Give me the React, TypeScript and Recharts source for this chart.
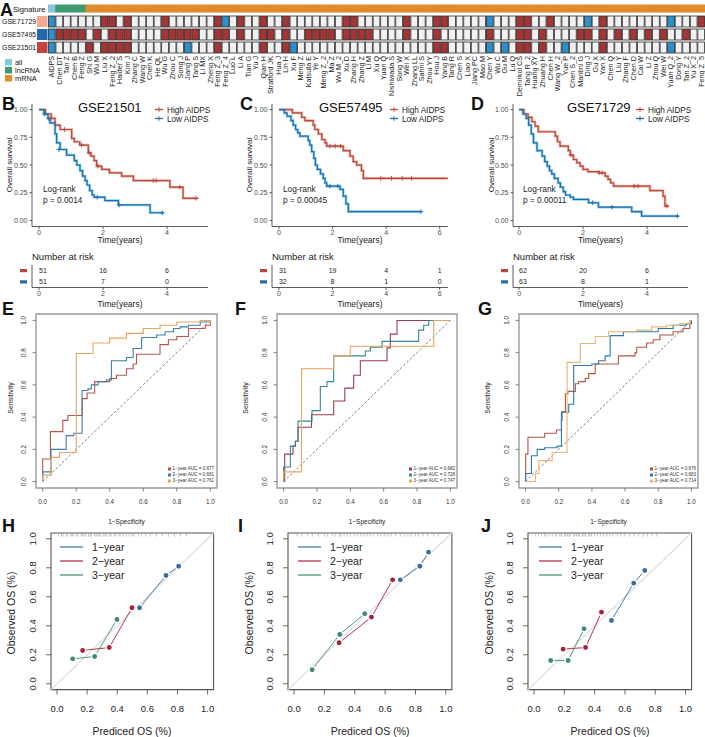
import React from 'react';
import { ComposedChart, ScatterChart, Scatter, Line, XAxis, YAxis, ReferenceArea, ReferenceLine } from 'recharts';

const FONT = "'Liberation Sans', Arial, Helvetica, sans-serif";

// ---------------- A: signature comparison ----------------
const signatureNames = [
  'AIDPS', 'Chen DT', 'Tan Z', 'Chen B', 'Feng Z', 'Shi G', 'Wu M', 'Liu X', 'Feng Z_2', 'Haider S',
  'Kim J', 'Zhang C', 'Wang W', 'Chen K', 'He QL', 'Wu G', 'Zhou C', 'Song J', 'Jiang P', 'Tang S',
  'Li MX', 'Zheng X', 'Feng Z_3', 'Feng Z_4', 'Luo L', 'Li A', 'Tian G', 'Yu J', 'Qian H', 'Stratford JK',
  'Hua J', 'Lin H', 'Xu F', 'Meng Z', 'Katsuta E', 'Ye Y', 'Meng Z_2', 'Ma Z', 'Wu M_2', 'Xu D',
  'Zhang H', 'Zhang Z', 'Li M', 'Xu Q', 'Yuan Q', 'Nishiwada S', 'Song W', 'Wei X', 'Zhang LL', 'Sahni S',
  'Zhou YY', 'Hou J', 'Yang B', 'Tang R', 'Chen S', 'Liao X', 'Jiang PC', 'Mao M', 'Chen Y', 'Wu C',
  'Gu M', 'Lu Q', 'Demirkol CS', 'Tang R_2', 'Huang XY', 'Zhuang H', 'Chen H', 'Wang W_2', 'Yue P', 'Chen S_2',
  'Mantini G', 'Ding J', 'Gu X', 'Yan X', 'Chen Q', 'Liu Y', 'Zhang F', 'Chen D', 'Cai W', 'Li Z',
  'Zhou Q', 'Wei W', 'Yuan Q_2', 'Dong Y', 'Tan Z_2', 'Yu X_2', 'Feng Z_5',
];
const lncRNASignatures = ['Chen DT', 'Tan Z', 'Chen B', 'Feng Z'];
const cohorts = ['GSE71729', 'GSE57495', 'GSE21501'];
// B = top ranked (blue), R = significant (red), W = not significant
const cells71729 = 'BWWWWWWRRW RWWWWRWWWW WWRBWRWWRW WRWWWWWWWR RWWWWWWRWW WRRWWWWWBW WWRRWWRWWW WBWRWWWWWW WWBWWWR';
const cells57495 = 'BRRRRWRWRR RWWWWRRRRR WWRRWRWWRR WRWWRRRRWR RRRWWWWRWW WRWWWWWWRW WWRRWRWWWW RRWRWRWRWR WRWWRWW';
const cells21501 = 'BWWWWRWRRR RWWWWWWWBW WWRWWWWWRW WRBWWWWWWW WWWWWWWWWW WRRWWWWWBW BWRRWRWWBW WWWRWWWWWW WWBWWWW';

const sigColors: any = { all: '#86c6df', lncRNA: '#3e9a72', mRNA: '#df8a2c' };
const cellColors: any = { B: '#2b8fcb', R: '#a63434', W: '#f1f1f1' };
const cohortColors = ['#f4a88e', '#2668b0', '#c6423a'];

const sigType = (name: string) => (name === 'AIDPS' ? 'all' : lncRNASignatures.includes(name) ? 'lncRNA' : 'mRNA');
const cohortCells = [cells71729, cells57495, cells21501].map((s) => s.replace(/ /g, ''));
const heatData = signatureNames.flatMap((name, col) => [
  { col, row: 0, kind: sigType(name) },
  ...cohortCells.map((cells, r) => ({ col, row: r + 1, kind: cells[col] || 'W' })),
]);
const colTicks = signatureNames.map((_, i) => i);

// ---------------- B-D: Kaplan-Meier ----------------
const km21501High = [[0, 1], [0.2, 0.96], [0.38, 0.92], [0.5, 0.86], [0.66, 0.82], [1.02, 0.74], [1.1, 0.71], [1.27, 0.68], [1.54, 0.61], [1.62, 0.58], [1.72, 0.54], [1.8, 0.49], [1.96, 0.46], [2.2, 0.43], [2.58, 0.4], [2.95, 0.36], [4.09, 0.3], [4.5, 0.2], [4.98, 0.2]];
const km21501Low = [[0, 1], [0.15, 0.96], [0.28, 0.92], [0.34, 0.88], [0.5, 0.78], [0.55, 0.7], [0.66, 0.64], [0.86, 0.59], [1.1, 0.54], [1.18, 0.5], [1.28, 0.45], [1.36, 0.4], [1.44, 0.36], [1.5, 0.32], [1.58, 0.27], [1.66, 0.23], [1.72, 0.21], [2.06, 0.18], [2.48, 0.14], [3.47, 0.07], [3.9, 0.07]];
const km57495High = [[0, 1], [0.5, 0.97], [0.85, 0.93], [0.97, 0.9], [1.28, 0.86], [1.34, 0.82], [1.47, 0.78], [1.6, 0.73], [1.72, 0.7], [1.78, 0.67], [2.4, 0.63], [2.65, 0.58], [2.77, 0.53], [2.9, 0.5], [3.08, 0.45], [3.15, 0.38], [6.3, 0.38]];
const km57495Low = [[0, 1], [0.2, 0.97], [0.3, 0.94], [0.45, 0.9], [0.53, 0.86], [0.62, 0.82], [0.7, 0.79], [0.78, 0.76], [1.09, 0.72], [1.15, 0.68], [1.22, 0.62], [1.3, 0.56], [1.36, 0.5], [1.43, 0.46], [1.55, 0.42], [1.65, 0.38], [1.72, 0.34], [1.78, 0.31], [2.28, 0.28], [2.4, 0.22], [2.5, 0.15], [2.59, 0.08], [5.32, 0.08]];
const km71729High = [[0, 1], [0.15, 0.96], [0.28, 0.93], [0.4, 0.89], [0.5, 0.85], [0.6, 0.8], [1.13, 0.76], [1.2, 0.71], [1.28, 0.67], [1.54, 0.63], [1.6, 0.59], [1.7, 0.55], [1.8, 0.52], [1.91, 0.49], [2.0, 0.46], [2.15, 0.44], [2.5, 0.43], [2.69, 0.4], [2.78, 0.37], [2.86, 0.34], [2.95, 0.31], [4.09, 0.27], [4.5, 0.22], [4.56, 0.13], [4.67, 0.13]];
const km71729Low = [[0, 1], [0.12, 0.96], [0.22, 0.92], [0.3, 0.86], [0.38, 0.78], [0.45, 0.7], [0.56, 0.63], [0.72, 0.58], [0.8, 0.53], [0.88, 0.49], [0.95, 0.45], [1.02, 0.42], [1.1, 0.38], [1.22, 0.34], [1.29, 0.3], [1.38, 0.26], [1.45, 0.23], [1.6, 0.21], [1.7, 0.19], [2.17, 0.16], [2.48, 0.12], [3.52, 0.08], [3.83, 0.04], [4.98, 0.04]];

const cens21501High = [[0.38, 0.92], [0.8, 0.82], [1.33, 0.68], [1.57, 0.61], [1.84, 0.49], [3.57, 0.36], [3.66, 0.36], [4.4, 0.3], [4.9, 0.2]];
const cens21501Low = [[0.18, 0.96], [0.3, 0.92], [0.62, 0.64], [1.82, 0.21], [2.5, 0.14], [3.85, 0.07]];
const cens57495High = [[1.9, 0.67], [2.1, 0.67], [2.3, 0.67], [3.8, 0.38], [4.2, 0.38], [4.6, 0.38], [4.95, 0.38]];
const cens57495Low = [[1.9, 0.31], [2.2, 0.31], [5.3, 0.08]];
const cens71729High = [[1.62, 0.59], [2.5, 0.43], [2.6, 0.43], [3.6, 0.31], [3.72, 0.31], [4.62, 0.13]];
const cens71729Low = [[2.3, 0.16], [2.9, 0.12], [4.95, 0.04]];

const riskTimes21501 = [0, 2, 4];
const risk21501High = [51, 16, 6];
const risk21501Low = [51, 7, 0];
const riskTimes57495 = [0, 2, 4, 6];
const risk57495High = [31, 19, 4, 1];
const risk57495Low = [32, 8, 1, 0];
const riskTimes71729 = [0, 2, 4];
const risk71729High = [62, 20, 6];
const risk71729Low = [63, 8, 1];

const survTicks = [0, 0.25, 0.5, 0.75, 1];

// ---------------- E-G: time-dependent ROC ----------------
const roc21501Year1 = [[0, 0], [0, 0.14], [0.046, 0.31], [0.12, 0.38], [0.15, 0.41], [0.235, 0.515], [0.265, 0.55], [0.31, 0.62], [0.4, 0.64], [0.44, 0.66], [0.5, 0.7], [0.54, 0.73], [0.56, 0.79], [0.7, 0.85], [0.75, 0.88], [0.8, 0.9], [0.87, 0.95], [0.97, 0.97], [1, 1]];
const roc21501Year2 = [[0, 0], [0, 0.06], [0.05, 0.2], [0.14, 0.285], [0.185, 0.3], [0.235, 0.565], [0.27, 0.575], [0.29, 0.6], [0.33, 0.62], [0.38, 0.63], [0.41, 0.75], [0.5, 0.77], [0.54, 0.826], [0.59, 0.894], [0.68, 0.91], [0.73, 0.93], [0.78, 0.95], [0.82, 0.96], [0.87, 0.97], [0.94, 0.99], [0.98, 1], [1, 1]];
const roc21501Year3 = [[0, 0], [0, 0.04], [0.05, 0.15], [0.1, 0.18], [0.2, 0.795], [0.3, 0.86], [0.4, 0.89], [0.5, 0.92], [0.6, 0.95], [0.7, 0.97], [0.8, 0.99], [0.94, 1], [1, 1]];
const roc57495Year1 = [[0, 0], [0.006, 0.17], [0.056, 0.22], [0.07, 0.25], [0.086, 0.337], [0.167, 0.415], [0.3, 0.5], [0.367, 0.58], [0.42, 0.66], [0.46, 0.75], [0.62, 0.83], [0.64, 0.915], [0.68, 1], [1, 1]];
const roc57495Year2 = [[0, 0], [0, 0.09], [0.04, 0.22], [0.07, 0.25], [0.086, 0.375], [0.17, 0.44], [0.22, 0.59], [0.26, 0.62], [0.3, 0.78], [0.49, 0.81], [0.52, 0.834], [0.59, 0.87], [0.81, 0.94], [0.84, 0.97], [0.87, 1], [1, 1]];
const roc57495Year3 = [[0, 0], [0, 0.06], [0.107, 0.7], [0.3, 0.78], [0.4, 0.84], [0.9, 1], [1, 1]];
const roc71729Year1 = [[0, 0], [0, 0.1], [0, 0.17], [0.014, 0.275], [0.115, 0.3], [0.186, 0.32], [0.216, 0.38], [0.22, 0.435], [0.24, 0.545], [0.255, 0.56], [0.3, 0.607], [0.32, 0.62], [0.36, 0.64], [0.38, 0.67], [0.42, 0.73], [0.56, 0.78], [0.66, 0.8], [0.67, 0.834], [0.73, 0.86], [0.77, 0.88], [0.81, 0.91], [0.89, 0.93], [0.95, 0.95], [0.99, 0.98], [1, 1]];
const roc71729Year2 = [[0, 0], [0, 0.05], [0.035, 0.16], [0.07, 0.2], [0.115, 0.21], [0.19, 0.22], [0.216, 0.43], [0.26, 0.48], [0.29, 0.72], [0.4, 0.73], [0.44, 0.75], [0.48, 0.78], [0.51, 0.906], [0.59, 0.93], [0.8, 0.95], [0.89, 0.97], [0.97, 0.98], [1, 1]];
const roc71729Year3 = [[0, 0], [0.06, 0.05], [0.08, 0.13], [0.16, 0.18], [0.25, 0.74], [0.33, 0.857], [0.42, 0.9], [0.5, 0.93], [0.67, 0.94], [0.76, 0.96], [0.85, 0.97], [0.93, 0.98], [0.99, 1], [1, 1]];
const auc21501 = ['0.677', '0.681', '0.761'];
const auc57495 = ['0.682', '0.728', '0.747'];
const auc71729 = ['0.676', '0.683', '0.714'];
const years = ['1\u2212year', '2\u2212year', '3\u2212year'];

// ---------------- H-J: calibration ----------------
const cal21501Year1 = [[0.548, 0.524], [0.724, 0.747], [0.808, 0.811]];
const cal21501Year2 = [[0.17, 0.23], [0.347, 0.25], [0.498, 0.524]];
const cal21501Year3 = [[0.104, 0.172], [0.25, 0.188], [0.398, 0.443]];
const cal57495Year1 = [[0.7, 0.717], [0.829, 0.811], [0.886, 0.908]];
const cal57495Year2 = [[0.297, 0.283], [0.51, 0.46], [0.649, 0.717]];
const cal57495Year3 = [[0.119, 0.097], [0.301, 0.34], [0.466, 0.483]];
const cal71729Year1 = [[0.511, 0.437], [0.658, 0.694], [0.731, 0.781]];
const cal71729Year2 = [[0.192, 0.239], [0.34, 0.25], [0.445, 0.494]];
const cal71729Year3 = [[0.11, 0.161], [0.225, 0.161], [0.33, 0.379]];
const rug21501 = [0.01, 0.03, 0.04, 0.06, 0.07, 0.09, 0.1, 0.11, 0.13, 0.14, 0.16, 0.17, 0.18, 0.19, 0.21, 0.22, 0.23, 0.25, 0.26, 0.27, 0.28, 0.29, 0.31, 0.32, 0.33, 0.35, 0.36, 0.38, 0.39, 0.41, 0.42, 0.44, 0.46, 0.48, 0.5, 0.51, 0.54, 0.56, 0.59, 0.62, 0.66, 0.7, 0.74, 0.78, 0.82, 0.86];
const rug57495 = [0.02, 0.05, 0.09, 0.12, 0.16, 0.2, 0.22, 0.25, 0.27, 0.3, 0.31, 0.33, 0.35, 0.37, 0.4, 0.42, 0.44, 0.46, 0.48, 0.5, 0.52, 0.55, 0.57, 0.6, 0.62, 0.64, 0.67, 0.7, 0.73, 0.75, 0.77, 0.8, 0.82, 0.85, 0.88, 0.92, 0.95];
const rug71729 = [0.01, 0.03, 0.05, 0.07, 0.08, 0.1, 0.12, 0.14, 0.15, 0.17, 0.18, 0.2, 0.21, 0.22, 0.23, 0.24, 0.26, 0.27, 0.28, 0.29, 0.3, 0.32, 0.33, 0.34, 0.36, 0.37, 0.38, 0.4, 0.42, 0.44, 0.46, 0.48, 0.5, 0.52, 0.55, 0.57, 0.6, 0.63, 0.66, 0.69, 0.72, 0.75, 0.78, 0.81];
const unitTicks = [0, 0.2, 0.4, 0.6, 0.8, 1];

const KM_RED = '#b8473c';
const KM_RED_HALO = '#eab3a6';
const KM_BLUE = '#1f6ea5';
const KM_BLUE_HALO = '#8ccbea';
const CAL_COLORS = ['#3b6e9c', '#a8203a', '#3e8c6c'];

const toTS = (a: number[][]) => a.map(([t, s]) => ({ t, s }));
const toXY = (a: number[][]) => a.map(([x, y]) => ({ x, y }));

const kmPanels = [
  { letter: 'B', title: 'GSE21501', pval: 'p = 0.0014', plotLeft: 32, plotRight: 208, domain: [-0.22, 5.28], times: riskTimes21501, high: km21501High, low: km21501Low, censHigh: cens21501High, censLow: cens21501Low, riskHigh: risk21501High, riskLow: risk21501Low, letterX: 2, titleX: 78, legendX: 155, logX: 43, yLabX: 9 },
  { letter: 'C', title: 'GSE57495', pval: 'p = 0.00045', plotLeft: 272, plotRight: 448, domain: [-0.26, 6.31], times: riskTimes57495, high: km57495High, low: km57495Low, censHigh: cens57495High, censLow: cens57495Low, riskHigh: risk57495High, riskLow: risk57495Low, letterX: 240, titleX: 319, legendX: 390, logX: 283, yLabX: 249 },
  { letter: 'D', title: 'GSE71729', pval: 'p = 0.00011', plotLeft: 513, plotRight: 688, domain: [-0.19, 5.28], times: riskTimes71729, high: km71729High, low: km71729Low, censHigh: cens71729High, censLow: cens71729Low, riskHigh: risk71729High, riskLow: risk71729Low, letterX: 471, titleX: 567, legendX: 636, logX: 523, yLabX: 491 },
];

const rocPanels = [
  { letter: 'E', boxLeft: 36, boxRight: 217, letterX: 2, sensX: 10, legendX: 168, auc: auc21501, series: [{ data: roc21501Year1, color: '#b5574b' }, { data: roc21501Year2, color: '#3f7fa5' }, { data: roc21501Year3, color: '#e6a55c' }] },
  { letter: 'F', boxLeft: 277, boxRight: 457, letterX: 235, sensX: 245, legendX: 409, auc: auc57495, series: [{ data: roc57495Year1, color: '#9a3d4e' }, { data: roc57495Year2, color: '#338a96' }, { data: roc57495Year3, color: '#e6a55c' }] },
  { letter: 'G', boxLeft: 519, boxRight: 698, letterX: 478, sensX: 487, legendX: 650, auc: auc71729, series: [{ data: roc71729Year1, color: '#b05646' }, { data: roc71729Year2, color: '#2c7ab0' }, { data: roc71729Year3, color: '#e9b477' }] },
];

const calPanels = [
  { letter: 'H', boxLeft: 50.7, boxRight: 213.3, letterX: 2, obsX: 11, legendX: 60, rug: rug21501, series: [cal21501Year1, cal21501Year2, cal21501Year3] },
  { letter: 'I', boxLeft: 288.2, boxRight: 452.1, letterX: 238, obsX: 249, legendX: 298, rug: rug57495, series: [cal57495Year1, cal57495Year2, cal57495Year3] },
  { letter: 'J', boxLeft: 528.2, boxRight: 691.8, letterX: 481, obsX: 489, legendX: 539, rug: rug71729, series: [cal71729Year1, cal71729Year2, cal71729Year3] },
];

// ---------------- shapes / ticks ----------------
const colW = 657 / 87;

const HeatCell = (props: any) => {
  const { cx, cy, payload } = props;
  if (cx == null || cy == null) return null;
  if (payload.row === 0) {
    return <rect x={cx - colW / 2 - 0.3} y={cy - 4} width={colW + 0.6} height={8} fill={sigColors[payload.kind]} />;
  }
  return <rect x={cx - colW / 2 + 0.4} y={cy - 5.5} width={colW - 0.8} height={11} fill={cellColors[payload.kind]} stroke="#2e2e2e" strokeWidth={0.8} />;
};

const ColTick = (props: any) => {
  const { x, y, payload } = props;
  const bx = x + 2.4;
  return (
    <text x={bx} y={y} transform={`rotate(-90 ${bx} ${y})`} textAnchor="end" fontSize={7.2} fill="#222">
      {signatureNames[payload.value]}
    </text>
  );
};

const censor = (color: string) => (props: any) => {
  const { cx, cy } = props;
  if (cx == null || cy == null) return null;
  return (
    <g stroke={color} strokeWidth={0.9}>
      <line x1={cx - 2.4} x2={cx + 2.4} y1={cy} y2={cy} />
      <line x1={cx} x2={cx} y1={cy - 2.4} y2={cy + 2.4} />
    </g>
  );
};

const RiskText = (props: any) => {
  const { cx, cy, payload } = props;
  if (cx == null || cy == null) return null;
  return (
    <text x={cx} y={cy} dy="0.35em" textAnchor={payload.t === 0 ? 'start' : 'middle'} fontSize={7} fill="#222">
      {payload.n}
    </text>
  );
};

const RiskTick = (props: any) => {
  const { x, y, payload } = props;
  return <rect x={x - 7} y={y - 1.6} width={7} height={3.2} fill={payload.value === 0 ? KM_RED : KM_BLUE} />;
};

const RugTick = (props: any) => {
  const { cx, cy } = props;
  if (cx == null || cy == null) return null;
  return <line x1={cx} x2={cx} y1={cy + 0.6} y2={cy + 3.6} stroke="#9a9a9a" strokeWidth={0.6} />;
};

const rotTick = (size: number, fill: string) => (props: any) => {
  const { x, y, payload } = props;
  return (
    <text x={x} y={y} transform={`rotate(-90 ${x} ${y})`} textAnchor="middle" fontSize={size} fill={fill}>
      {payload.value.toFixed(1)}
    </text>
  );
};

const flatTick = (size: number, fill: string) => (props: any) => {
  const { x, y, payload } = props;
  return (
    <text x={x} y={y} dy="0.71em" textAnchor="middle" fontSize={size} fill={fill}>
      {payload.value.toFixed(1)}
    </text>
  );
};

// ---------------- panels ----------------
function Heatmap() {
  return (
    <div style={{ position: 'absolute', left: 0, top: 0 }}>
      <ScatterChart width={705} height={104} margin={{ top: 2, right: 0, bottom: 0, left: 48 }}>
        <XAxis type="number" dataKey="col" domain={[-0.5, 86.5]} ticks={colTicks} interval={0} allowDataOverflow height={50}
          axisLine={false} tickLine={false} tickSize={0} tickMargin={2} tick={(p: any) => <ColTick {...p} />} />
        <YAxis type="number" dataKey="row" domain={[-0.5, 3.5]} reversed allowDataOverflow hide />
        <Scatter data={heatData} shape={(p: any) => <HeatCell {...p} />} isAnimationActive={false} />
      </ScatterChart>
    </div>
  );
}

function KMPanel({ p }: any) {
  const w = p.plotRight - p.plotLeft;
  const high = toTS(p.high);
  const low = toTS(p.low);
  const riskData = [
    ...p.times.map((t: number, i: number) => ({ t, row: 0, n: p.riskHigh[i] })),
    ...p.times.map((t: number, i: number) => ({ t, row: 1, n: p.riskLow[i] })),
  ];
  const axisLine = { stroke: '#333', strokeWidth: 0.8 };
  const tickStyle = { fontSize: 7, fill: '#4d4d4d' };
  return (
    <>
      <div style={{ position: 'absolute', left: p.plotLeft - 30, top: 98.5 }}>
        <ComposedChart width={30 + w + 4} height={147.5} margin={{ top: 5, right: 4, bottom: 2, left: 0 }}>
          <XAxis type="number" dataKey="t" domain={p.domain} ticks={p.times} allowDataOverflow height={18}
            tickSize={2.5} tickMargin={1.5} tick={tickStyle} axisLine={axisLine} tickLine={axisLine} />
          <YAxis type="number" domain={[-0.054, 1.05]} ticks={survTicks} allowDataOverflow width={30}
            tickSize={2.5} tickMargin={2} tick={tickStyle} tickFormatter={(v: number) => v.toFixed(2)} axisLine={axisLine} tickLine={axisLine} />
          <Line data={high} dataKey="s" type="stepAfter" stroke={KM_RED_HALO} strokeWidth={2.6} dot={false} isAnimationActive={false} />
          <Line data={low} dataKey="s" type="stepAfter" stroke={KM_BLUE_HALO} strokeWidth={2.6} dot={false} isAnimationActive={false} />
          <Line data={high} dataKey="s" type="stepAfter" stroke={KM_RED} strokeWidth={1.2} dot={false} isAnimationActive={false} />
          <Line data={low} dataKey="s" type="stepAfter" stroke={KM_BLUE} strokeWidth={1.2} dot={false} isAnimationActive={false} />
          <Scatter data={toTS(p.censHigh)} dataKey="s" shape={censor(KM_RED)} isAnimationActive={false} />
          <Scatter data={toTS(p.censLow)} dataKey="s" shape={censor(KM_BLUE)} isAnimationActive={false} />
        </ComposedChart>
      </div>
      <div style={{ position: 'absolute', left: p.plotLeft - 30, top: 262.5 }}>
        <ComposedChart width={30 + w + 4} height={46.5} margin={{ top: 2, right: 4, bottom: 0, left: 0 }}>
          <XAxis type="number" dataKey="t" domain={p.domain} ticks={p.times} allowDataOverflow height={22}
            tickSize={2.5} tickMargin={1.5} tick={tickStyle} axisLine={axisLine} tickLine={axisLine} />
          <YAxis type="number" dataKey="row" domain={[-0.5, 1.5]} reversed ticks={[0, 1]} interval={0} allowDataOverflow width={30}
            tickSize={0} tickMargin={5} tickLine={false} axisLine={axisLine} tick={(pr: any) => <RiskTick {...pr} />} />
          <Scatter data={riskData} dataKey="row" shape={(pr: any) => <RiskText {...pr} />} isAnimationActive={false} />
        </ComposedChart>
      </div>
    </>
  );
}

function RocPanel({ p }: any) {
  const boxW = p.boxRight - p.boxLeft;
  const tl = { stroke: '#555', strokeWidth: 0.7 };
  return (
    <div style={{ position: 'absolute', left: p.boxLeft - 36, top: 308.5 }}>
      <ComposedChart width={36 + boxW + 3} height={201} margin={{ top: 5, right: 3, bottom: 2, left: 0 }}>
        <XAxis type="number" dataKey="x" domain={[-0.04, 1.04]} ticks={unitTicks} interval={0} allowDataOverflow height={20}
          axisLine={false} tickLine={tl} tickSize={3.5} tickMargin={8.5} tick={flatTick(6.3, '#333')} />
        <YAxis type="number" domain={[-0.04, 1.04]} ticks={unitTicks} interval={0} allowDataOverflow width={36}
          axisLine={false} tickLine={tl} tickSize={3.5} tickMargin={6.2} tick={rotTick(6.3, '#333')} />
        <ReferenceArea x1={-0.04} x2={1.04} y1={-0.04} y2={1.04} fill="none" stroke="#9a9a9a" strokeWidth={1.4} ifOverflow="visible" />
        <ReferenceLine segment={[{ x: 0, y: 0 }, { x: 1, y: 1 }]} stroke="#444" strokeDasharray="2.5 2" strokeWidth={0.7} ifOverflow="visible" />
        {p.series.map((s: any, i: number) => (
          <Line key={i} data={toXY(s.data)} dataKey="y" type="stepAfter" stroke={s.color} strokeWidth={1.1} dot={false} isAnimationActive={false} />
        ))}
      </ComposedChart>
    </div>
  );
}

function CalPanel({ p }: any) {
  const boxW = p.boxRight - p.boxLeft;
  const tl = { stroke: '#444', strokeWidth: 0.8 };
  const rug = p.rug.map((x: number) => ({ x, y: 1.04 }));
  return (
    <div style={{ position: 'absolute', left: p.boxLeft - 50, top: 527.5 }}>
      <ComposedChart width={50 + boxW + 3} height={189.6} margin={{ top: 5, right: 3, bottom: 2, left: 0 }}>
        <XAxis type="number" dataKey="x" domain={[-0.04, 1.04]} ticks={unitTicks} interval={0} allowDataOverflow height={26}
          axisLine={false} tickLine={tl} tickSize={5} tickMargin={10.5} tick={flatTick(9.5, '#222')} />
        <YAxis type="number" domain={[-0.04, 1.04]} ticks={unitTicks} interval={0} allowDataOverflow width={50}
          axisLine={false} tickLine={tl} tickSize={5} tickMargin={10.3} tick={rotTick(9.5, '#222')} />
        <ReferenceLine segment={[{ x: -0.04, y: -0.04 }, { x: 1.04, y: 1.04 }]} stroke="#dedede" strokeWidth={1.2} ifOverflow="visible" />
        <ReferenceArea x1={-0.04} x2={1.04} y1={-0.04} y2={1.04} fill="none" stroke="#555" strokeWidth={1.1} ifOverflow="visible" />
        <Scatter data={rug} dataKey="y" shape={(pr: any) => <RugTick {...pr} />} isAnimationActive={false} />
        {p.series.map((s: number[][], i: number) => (
          <Line key={i} data={toXY(s)} dataKey="y" type="linear" stroke={CAL_COLORS[i]} strokeWidth={0.9}
            dot={{ r: 3.1, fill: CAL_COLORS[i], stroke: '#fff', strokeWidth: 1.3 }} isAnimationActive={false} />
        ))}
      </ComposedChart>
    </div>
  );
}

// ---------------- static text / annotations ----------------
function Overlay() {
  const legendA = [['all', sigColors.all], ['lncRNA', sigColors.lncRNA], ['mRNA', sigColors.mRNA]];
  return (
    <svg width={705} height={737} style={{ position: 'absolute', left: 0, top: 0, pointerEvents: 'none' }}>
      <g fill="#111" fontFamily={FONT}>
        {/* A */}
        <text x={0} y={15.5} fontSize={18} fontWeight="bold">A</text>
        <text x={13} y={12} fontSize={7.6}>Signature</text>
        {cohorts.map((c, i) => (
          <g key={c}>
            <text x={2} y={24 + 13 * i} fontSize={7}>{c}</text>
            <rect x={37} y={16 + 13 * i} width={10.5} height={11} fill={cohortColors[i]} />
          </g>
        ))}
        {legendA.map(([lab, col], i) => (
          <g key={lab}>
            <rect x={5} y={59 + 8 * i} width={7} height={6.5} fill={col} />
            <text x={15} y={64.6 + 8 * i} fontSize={7.4}>{lab}</text>
          </g>
        ))}

        {/* B-D */}
        {kmPanels.map((p) => {
          const mid = (p.plotLeft + p.plotRight) / 2;
          return (
            <g key={p.letter}>
              <text x={p.letterX} y={110} fontSize={18} fontWeight="bold">{p.letter}</text>
              <text x={p.titleX} y={111.5} fontSize={13}>{p.title}</text>
              {[['High AIDPS', KM_RED, 109.5], ['Low AIDPS', KM_BLUE, 118.5]].map(([lab, col, y]: any) => (
                <g key={lab}>
                  <line x1={p.legendX} x2={p.legendX + 8} y1={y} y2={y} stroke={col} strokeWidth={1.3} />
                  <line x1={p.legendX + 4} x2={p.legendX + 4} y1={y - 2.4} y2={y + 2.4} stroke={col} strokeWidth={0.9} />
                  <text x={p.legendX + 12} y={y + 3} fontSize={8.2} fill="#222">{lab}</text>
                </g>
              ))}
              <text x={p.logX} y={192} fontSize={8.3} fill="#222">Log-rank</text>
              <text x={p.logX} y={203} fontSize={8.3} fill="#222">{p.pval}</text>
              <text x={p.yLabX + 3} y={165} fontSize={8} textAnchor="middle" fill="#222" transform={`rotate(-90 ${p.yLabX + 3} 165)`}>Overall survival</text>
              <text x={mid} y={243} fontSize={8.5} textAnchor="middle" fill="#222">Time(years)</text>
              <text x={p.plotLeft} y={259.5} fontSize={9.5} fill="#222">Number at risk</text>
              <text x={mid} y={306.5} fontSize={8.5} textAnchor="middle" fill="#222">Time(years)</text>
            </g>
          );
        })}

        {/* E-G */}
        {rocPanels.map((p) => (
          <g key={p.letter}>
            <text x={p.letterX} y={314.5} fontSize={18} fontWeight="bold">{p.letter}</text>
            <text x={p.sensX + 2.5} y={398} fontSize={7} textAnchor="middle" fill="#222" transform={`rotate(-90 ${p.sensX + 2.5} 398)`}>Sensitivity</text>
            <text x={(p.boxLeft + p.boxRight) / 2} y={523.5} fontSize={6.5} textAnchor="middle" fill="#222">1{'\u2212'}Specificity</text>
            {p.series.map((s, i) => (
              <g key={i}>
                <rect x={p.legendX} y={467.5 + 6 * i} width={3} height={3} fill={s.color} />
                <text x={p.legendX + 4.5} y={470.4 + 6 * i} fontSize={4.6} fill="#333">{`${years[i]} AUC = ${p.auc[i]}`}</text>
              </g>
            ))}
          </g>
        ))}

        {/* H-J */}
        {calPanels.map((p) => (
          <g key={p.letter}>
            <text x={p.letterX} y={532} fontSize={18} fontWeight="bold">{p.letter}</text>
            <text x={p.obsX + 3.8} y={613} fontSize={10.5} textAnchor="middle" fill="#222" transform={`rotate(-90 ${p.obsX + 3.8} 613)`}>Observed OS (%)</text>
            <text x={(p.boxLeft + p.boxRight) / 2} y={735} fontSize={10.5} textAnchor="middle" fill="#222">Prediced OS (%)</text>
            {years.map((yr, i) => (
              <g key={yr}>
                <line x1={p.legendX} x2={p.legendX + 23} y1={547 + 14 * i} y2={547 + 14 * i} stroke={CAL_COLORS[i]} strokeWidth={1.2} />
                <text x={p.legendX + 32} y={550.8 + 14 * i} fontSize={10.5} fill="#222">{yr}</text>
              </g>
            ))}
          </g>
        ))}
      </g>
    </svg>
  );
}

export default function App() {
  return (
    <div style={{ position: 'relative', width: 705, height: 737, background: '#fff', overflow: 'hidden', fontFamily: FONT }}>
      <style>{`body{margin:0} svg text{font-family:${FONT}}`}</style>
      <Heatmap />
      {kmPanels.map((p) => <KMPanel key={p.letter} p={p} />)}
      {rocPanels.map((p) => <RocPanel key={p.letter} p={p} />)}
      {calPanels.map((p) => <CalPanel key={p.letter} p={p} />)}
      <Overlay />
    </div>
  );
}
